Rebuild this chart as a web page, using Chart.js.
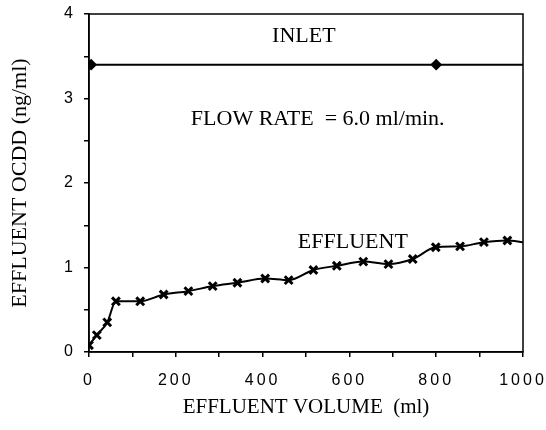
<!DOCTYPE html>
<html>
<head>
<meta charset="utf-8">
<script src="https://cdn.jsdelivr.net/npm/chart.js@4/dist/chart.umd.min.js"></script>
<style>
  html, body { margin: 0; padding: 0; background: #fff; }
  #wrap { width: 546px; height: 430px; }
</style>
</head>
<body>
<div id="wrap"><canvas id="chart" width="546" height="430"></canvas></div>
<script>
// --- datos ---
const effluentVolume = [0, 18, 42, 62, 118, 172, 229, 285, 342, 406, 460, 517, 571, 632, 690, 746, 799, 855, 910, 964, 1000];
const effluentOcdd   = [0.08, 0.2, 0.35, 0.6, 0.6, 0.68, 0.72, 0.78, 0.82, 0.87, 0.85, 0.97, 1.02, 1.07, 1.04, 1.10, 1.24, 1.25, 1.30, 1.32, 1.30];
const inletVolume = [5, 800, 1000];
const inletOcdd   = [3.4, 3.4, 3.4];
const xTicks = [0, 200, 400, 600, 800, 1000];
const yTicks = [0, 1, 2, 3, 4];

const notes = [
  { text: 'INLET', x: 495, y: 3.74 },
  { text: 'FLOW RATE  = 6.0 ml/min.', x: 527, y: 2.76 },
  { text: 'EFFLUENT', x: 608, y: 1.30 }
];

const serif = '"Liberation Serif", "Times New Roman", serif';
const sans = '"Liberation Sans", Arial, sans-serif';

// marco + textos + espaciado de las etiquetas
const framePlugin = {
  id: 'frame',
  beforeDraw(chart) { chart.ctx.letterSpacing = '0px'; },
  afterDatasetsDraw(chart) { chart.ctx.letterSpacing = '3px'; },
  afterDraw(chart) {
    const ctx = chart.ctx;
    const a = chart.chartArea;
    ctx.letterSpacing = '0px';
    ctx.save();
    ctx.strokeStyle = '#000';
    ctx.lineWidth = 1.5;
    ctx.strokeRect(a.left, a.top, a.right - a.left, a.bottom - a.top);
    ctx.fillStyle = '#000';
    ctx.font = '22px ' + serif;
    ctx.textAlign = 'center';
    ctx.textBaseline = 'middle';
    notes.forEach(n => {
      ctx.fillText(n.text, chart.scales.x.getPixelForValue(n.x), chart.scales.y.getPixelForValue(n.y));
    });
    ctx.restore();
  }
};

new Chart(document.getElementById('chart'), {
  type: 'line',
  data: {
    datasets: [
      {
        label: 'Inlet',
        data: inletVolume.map((v, i) => ({ x: v, y: inletOcdd[i] })),
        borderColor: '#000',
        backgroundColor: '#000',
        borderWidth: 2,
        pointStyle: 'rectRot',
        pointRadius: inletVolume.map(v => v === 1000 ? 0 : 4.5),
        tension: 0
      },
      {
        label: 'Effluent',
        data: effluentVolume.map((v, i) => ({ x: v, y: effluentOcdd[i] })),
        borderColor: '#000',
        backgroundColor: '#000',
        borderWidth: 2,
        pointStyle: 'crossRot',
        pointRadius: effluentVolume.map(v => v === 1000 ? 0 : 5.5),
        pointBorderWidth: 3,
        cubicInterpolationMode: 'monotone'
      }
    ]
  },
  options: {
    responsive: false,
    animation: false,
    events: [],
    layout: { padding: { top: 14, right: 23, left: 0, bottom: 0 } },
    plugins: { legend: { display: false }, tooltip: { enabled: false } },
    scales: {
      x: {
        type: 'linear',
        min: 0, max: 1000,
        afterFit(s) { s.height = 78; s.paddingLeft = 0; s.paddingRight = 0; },
        ticks: {
          stepSize: 100,
          z: 1,
          padding: 14,
          color: '#000',
          font: { family: sans, size: 16 },
          maxRotation: 0,
          callback: v => xTicks.includes(v) ? String(v) : ''
        },
        grid: { drawOnChartArea: false, drawTicks: true, tickLength: 5, color: '#000', lineWidth: 1.5 },
        border: { color: '#000', width: 1.5 },
        title: { display: true, text: 'EFFLUENT VOLUME  (ml)', color: '#000', font: { family: serif, size: 21 }, padding: { top: 0, bottom: 10 } }
      },
      y: {
        min: 0, max: 4,
        afterFit(s) { s.width = 89; s.paddingTop = 0; s.paddingBottom = 0; },
        ticks: {
          stepSize: 0.5,
          z: 1,
          padding: 8,
          color: '#000',
          font: { family: sans, size: 16 },
          callback: v => yTicks.includes(v) ? String(v) : ''
        },
        grid: { drawOnChartArea: false, drawTicks: true, tickLength: 5, color: '#000', lineWidth: 1.5 },
        border: { color: '#000', width: 1.5 },
        title: { display: true, text: 'EFFLUENT OCDD (ng/ml)', color: '#000', font: { family: serif, size: 22 }, padding: { top: 7, bottom: 0 } }
      }
    }
  },
  plugins: [framePlugin]
});
</script>
</body>
</html>
